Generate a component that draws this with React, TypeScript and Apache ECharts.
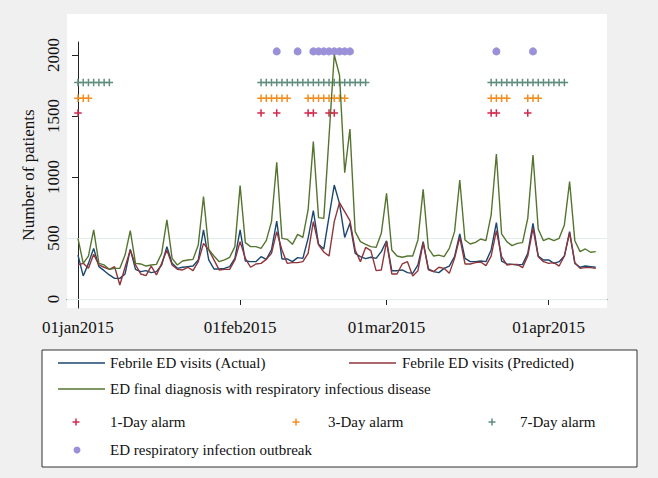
import React, { useEffect, useRef } from "react";
import * as echarts from "echarts";

// Day index 0 = 01jan2015
const tickDays = [0, 31, 59, 90];
const tickLabels = ["01jan2015", "01feb2015", "01mar2015", "01apr2015"];
const yTicks = [0, 500, 1000, 1500, 2000];
const gridLevels = [0, 500];

const actual = [
  360, 189, 292, 415, 265, 232, 197, 169, 169, 205,
  407, 243, 224, 232, 216, 224, 279, 429, 292, 251,
  260, 265, 270, 320, 566, 320, 246, 246, 251, 265,
  333, 566, 311, 306, 306, 347, 325, 402, 639, 328,
  328, 306, 339, 333, 497, 724, 448, 410, 675, 934,
  784, 505, 620, 374, 347, 331, 342, 333, 388, 477,
  232, 232, 238, 216, 210, 279, 470, 246, 224, 216,
  251, 270, 347, 533, 333, 306, 306, 311, 306, 402,
  626, 311, 287, 284, 279, 284, 374, 620, 352, 320,
  320, 292, 306, 352, 552, 292, 260, 270, 265, 260,
];

const predicted = [
  279, 292, 251, 366, 279, 260, 243, 265, 115, 260,
  402, 279, 205, 191, 270, 197, 292, 402, 279, 243,
  238, 260, 232, 306, 456, 402, 320, 238, 243, 243,
  320, 470, 333, 260, 287, 292, 325, 374, 552, 402,
  292, 298, 298, 306, 374, 634, 443, 385, 352, 634,
  790, 716, 642, 402, 306, 423, 396, 232, 238, 470,
  205, 205, 287, 306, 189, 232, 462, 238, 224, 260,
  251, 210, 333, 505, 287, 287, 298, 303, 273, 352,
  560, 347, 279, 284, 284, 257, 352, 579, 347, 306,
  292, 298, 270, 352, 544, 298, 251, 257, 257, 251,
];

const respiratory = [
  497, 292, 352, 566, 292, 279, 243, 251, 251, 360,
  560, 292, 287, 270, 279, 284, 374, 648, 333, 279,
  311, 320, 325, 443, 839, 407, 352, 306, 320, 342,
  429, 929, 462, 429, 429, 415, 478, 634, 1120, 497,
  489, 448, 530, 505, 730, 1290, 667, 661, 1330, 2000,
  1836, 1036, 1393, 552, 470, 448, 429, 423, 538, 866,
  402, 352, 342, 352, 352, 484, 899, 415, 352, 360,
  347, 415, 552, 975, 484, 451, 464, 492, 478, 689,
  1189, 533, 470, 437, 456, 462, 661, 1180, 574, 478,
  497, 478, 497, 607, 962, 478, 388, 410, 383, 388,
];

const oneDayAlarmDays = [0, 35, 38, 44, 45, 48, 49, 79, 80, 86];
const threeDayAlarmDays = [
  0, 1, 2, 35, 36, 37, 38, 39, 40, 44, 45, 46, 47, 48, 49, 50, 51,
  79, 80, 81, 82, 86, 87, 88,
];
const sevenDayAlarmDays = [
  0, 1, 2, 3, 4, 5, 6,
  35, 36, 37, 38, 39, 40, 41, 42, 43, 44, 45, 46, 47, 48, 49, 50, 51, 52, 53, 54, 55,
  79, 80, 81, 82, 83, 84, 85, 86, 87, 88, 89, 90, 91, 92, 93,
];
const outbreakDays = [38, 42, 45, 46, 47, 48, 49, 50, 51, 52, 80, 87];

const oneDayLevel = 1525;
const threeDayLevel = 1645;
const sevenDayLevel = 1775;
const outbreakLevel = 2030;

const names = [
  "Febrile ED visits (Actual)",
  "Febrile ED visits (Predicted)",
  "ED final diagnosis with respiratory infectious disease",
  "1-Day alarm",
  "3-Day alarm",
  "7-Day alarm",
  "ED respiratory infection outbreak",
];

const C_BLUE = "#1a476f";
const C_RED = "#90353b";
const C_GREEN = "#55752f";
const C_ONE = "#d3284c";
const C_THREE = "#f28e1f";
const C_SEVEN = "#5e8c7d";
const C_OUT = "#9a91d9";

const FONT = "'Liberation Serif', 'Times New Roman', serif";
const PLUS = "path://M4,0H6V4H10V6H6V10H4V6H0V4H4Z";

export default function App() {
  const ref = useRef<HTMLDivElement>(null);

  useEffect(() => {
    if (!ref.current) return;
    const chart = echarts.init(ref.current, undefined, { renderer: "svg" });

    const toPts = (arr: number[]) => arr.map((v, i) => [i, v]);
    const atLevel = (ds: number[], lvl: number) => ds.map((d) => [d, lvl]);

    const legendX1 = 58;
    const legendX2 = 105;
    const textX = 110;
    const plusShape = (cx: number, cy: number, color: string) => [
      { type: "line", z: 20, shape: { x1: cx - 3.5, y1: cy, x2: cx + 3.5, y2: cy }, style: { stroke: color, lineWidth: 1.5 } },
      { type: "line", z: 20, shape: { x1: cx, y1: cy - 3.5, x2: cx, y2: cy + 3.5 }, style: { stroke: color, lineWidth: 1.5 } },
    ];
    const txt = (x: number, y: number, s: string) => ({
      type: "text",
      z: 20,
      x,
      y,
      style: { text: s, fill: "#111", font: `15px ${FONT}`, align: "left", verticalAlign: "middle" },
    });
    const seg = (x1: number, x2: number, y: number, color: string) => ({
      type: "line",
      z: 20,
      shape: { x1, y1: y, x2, y2: y },
      style: { stroke: color, lineWidth: 1.5 },
    });

    const option: any = {
      animation: false,
      backgroundColor: "#f0f0f0",
      textStyle: { fontFamily: FONT },
      grid: { left: 67, width: 540, top: 42, height: 266, containLabel: false },
      xAxis: {
        type: "value",
        min: -2.1,
        max: 101.15,
        axisLine: { show: true, lineStyle: { color: "#222", width: 1 } },
        axisTick: { show: true, length: 6, customValues: tickDays, lineStyle: { color: "#222" } },
        axisLabel: {
          customValues: tickDays,
          margin: 11,
          fontSize: 17,
          color: "#111",
          fontFamily: FONT,
          formatter: (v: number) => tickLabels[tickDays.indexOf(v)] ?? "",
        },
        splitLine: { show: false },
      },
      yAxis: {
        type: "value",
        min: -74,
        max: 2107,
        name: "Number of patients",
        nameLocation: "middle",
        nameRotate: 90,
        nameGap: 28,
        nameTextStyle: { fontSize: 17, color: "#111", fontFamily: FONT },
        axisLine: { show: true, lineStyle: { color: "#222", width: 1 } },
        axisTick: { show: true, length: 6, customValues: yTicks, lineStyle: { color: "#222" } },
        axisLabel: {
          customValues: yTicks,
          rotate: 90,
          margin: 5,
          fontSize: 17,
          color: "#111",
          fontFamily: FONT,
          align: "center",
          verticalAlign: "bottom",
          formatter: (v: number) => String(Math.round(v)),
        },
        splitLine: { show: false },
      },
      graphic: [
        { type: "rect", z: -1, silent: true, shape: { x: 67, y: 14, width: 540, height: 294 }, style: { fill: "#ffffff" } },
        { type: "rect", z: 19, silent: true, shape: { x: 42, y: 350, width: 595, height: 117 }, style: { fill: "#ffffff", stroke: "#333", lineWidth: 1 } },
        seg(legendX1, legendX2, 363, C_BLUE),
        txt(textX, 363, names[0]),
        seg(349, 396, 363, C_RED),
        txt(402, 363, names[1]),
        seg(legendX1, legendX2, 389, C_GREEN),
        txt(textX, 389, names[2]),
        ...plusShape(76, 422, C_ONE),
        txt(textX, 422, names[3]),
        ...plusShape(296, 422, C_THREE),
        txt(328, 422, names[4]),
        ...plusShape(492, 422, C_SEVEN),
        txt(520, 422, names[5]),
        { type: "circle", z: 20, shape: { cx: 77, cy: 450, r: 3.5 }, style: { fill: C_OUT } },
        txt(textX, 450, names[6]),
      ],
      series: [
        {
          name: names[0],
          type: "line",
          data: toPts(actual),
          symbol: "none",
          lineStyle: { color: C_BLUE, width: 1.4 },
          itemStyle: { color: C_BLUE },
          markLine: {
            silent: true,
            symbol: "none",
            label: { show: false },
            lineStyle: { color: "#e4eced", width: 1, type: "solid" },
            data: gridLevels.map((g) => ({ yAxis: g })),
            z: 1,
          },
        },
        {
          name: names[1],
          type: "line",
          data: toPts(predicted),
          symbol: "none",
          lineStyle: { color: C_RED, width: 1.4 },
          itemStyle: { color: C_RED },
        },
        {
          name: names[2],
          type: "line",
          data: toPts(respiratory),
          symbol: "none",
          lineStyle: { color: C_GREEN, width: 1.4 },
          itemStyle: { color: C_GREEN },
        },
        {
          name: names[3],
          type: "scatter",
          data: atLevel(oneDayAlarmDays, oneDayLevel),
          symbol: PLUS,
          symbolSize: 7.5,
          itemStyle: { color: C_ONE, opacity: 1 },
        },
        {
          name: names[4],
          type: "scatter",
          data: atLevel(threeDayAlarmDays, threeDayLevel),
          symbol: PLUS,
          symbolSize: 7.5,
          itemStyle: { color: C_THREE, opacity: 1 },
        },
        {
          name: names[5],
          type: "scatter",
          data: atLevel(sevenDayAlarmDays, sevenDayLevel),
          symbol: PLUS,
          symbolSize: 7.5,
          itemStyle: { color: C_SEVEN, opacity: 1 },
        },
        {
          name: names[6],
          type: "scatter",
          data: atLevel(outbreakDays, outbreakLevel),
          symbol: "circle",
          symbolSize: 8,
          itemStyle: { color: C_OUT, opacity: 1 },
        },
      ],
    };

    chart.setOption(option);
    return () => chart.dispose();
  }, []);

  return (
    <div
      ref={ref}
      style={{ position: "fixed", left: 0, top: 0, width: 658, height: 478 }}
    />
  );
}
